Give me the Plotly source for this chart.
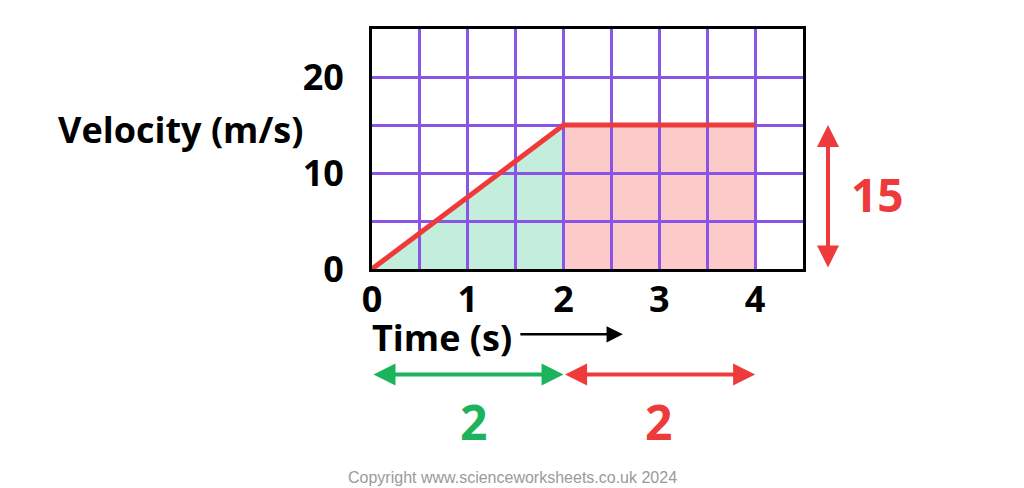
import plotly.graph_objects as go

# velocity-time data
time_s = [0, 2, 4]
velocity = [0, 15, 15]

x_ticks = [0, 0.5, 1, 1.5, 2, 2.5, 3, 3.5, 4, 4.5]
x_ticktext = ['0', '', '1', '', '2', '', '3', '', '4', '']
y_ticks = [0, 5, 10, 15, 20, 25]
y_ticktext = ['0', '', '10', '', '20', '']

X_MAX, Y_MAX = 4.5, 25
PLOT_W, PLOT_H = 431, 240

RED = '#ee3a3a'
GREEN = '#1bb35b'
PURPLE = '#8a55e6'
FONT = 'Open Sans'

fig = go.Figure()

# line of the graph
fig.add_trace(go.Scatter(
    x=time_s, y=velocity, mode='lines',
    line=dict(color=RED, width=5),
    cliponaxis=False, showlegend=False, hoverinfo='skip'))

# shaded areas, drawn below the grid
tri = 'M {},{} L {},{} L {},{} Z'.format(
    time_s[0], velocity[0], time_s[1], velocity[1], time_s[1], velocity[0])
fig.add_shape(type='path', path=tri, xref='x', yref='y',
              fillcolor='#c2eedb', line_width=0, layer='below')
fig.add_shape(type='rect', xref='x', yref='y',
              x0=time_s[1], x1=time_s[2], y0=0, y1=velocity[2],
              fillcolor='#fdcaca', line_width=0, layer='below')

tick_font = dict(family=FONT, size=36, color='black', weight='bold')
fig.update_xaxes(
    range=[0, X_MAX], tickvals=x_ticks, ticktext=x_ticktext,
    showgrid=True, gridcolor=PURPLE, gridwidth=3,
    showline=True, linecolor='black', linewidth=3, mirror=True,
    ticks='', ticklabelstandoff=-3,
    tickfont=tick_font, zeroline=False, fixedrange=True)
fig.update_yaxes(
    range=[0, Y_MAX], tickvals=y_ticks, ticktext=y_ticktext,
    showgrid=True, gridcolor=PURPLE, gridwidth=3,
    showline=True, linecolor='black', linewidth=3, mirror=True,
    ticks='outside', ticklen=18, tickcolor='rgba(0,0,0,0)',
    tickfont=tick_font, zeroline=False, fixedrange=True)


def px(t):
    return t / X_MAX


def arrow(x, y, ax, color, width, both=True, ay=0, size=1.1):
    return dict(text='', x=x, y=y, ax=ax, ay=ay, xref='paper', yref='paper',
                showarrow=True, arrowside='end+start' if both else 'end',
                arrowhead=2, startarrowhead=2, arrowsize=size,
                startarrowsize=size, arrowwidth=width, arrowcolor=color,
                standoff=0, startstandoff=0)


def label(text, x, y, size, color, xanchor='center', family=FONT,
          weight='bold'):
    return dict(text=text, x=x, y=y, xref='paper', yref='paper',
                xanchor=xanchor, yanchor='middle', showarrow=False,
                font=dict(family=family, size=size, color=color,
                          weight=weight))


rise_px = velocity[1] / Y_MAX * PLOT_H
run1_px = (time_s[1] - time_s[0]) / X_MAX * PLOT_W
run2_px = (time_s[2] - time_s[1]) / X_MAX * PLOT_W

annotations = [
    label('Velocity (m/s)', -0.445, 0.583, 36, 'black'),
    label('Time (s)', -0.004, -0.285, 36, 'black', xanchor='left'),
    # time direction arrow
    arrow(0.582, -0.272, -104, 'black', 2.5, both=False, size=1.3),
    # height arrow
    arrow(1.058, velocity[1] / Y_MAX, 0, RED, 4, ay=rise_px),
    label(str(velocity[1]), 1.174, 0.3125, 46, RED),
    # base arrows
    arrow(px(time_s[1]), -0.44, -run1_px, GREEN, 4),
    arrow(px(time_s[2]), -0.44, -run2_px, RED, 4),
    label(str(time_s[1] - time_s[0]), 0.2347, -0.635, 48, GREEN),
    label(str(time_s[2] - time_s[1]), 0.6636, -0.635, 48, RED),
    label('Copyright www.scienceworksheets.co.uk 2024', 0.327, -0.868, 16,
          '#9a9a9a', family='Liberation Sans', weight='normal'),
]

fig.update_layout(
    width=1024, height=488,
    margin=dict(l=364, r=1024 - 364 - PLOT_W, t=21, b=488 - 21 - PLOT_H),
    paper_bgcolor='white', plot_bgcolor='white',
    annotations=annotations,
    showlegend=False)

fig.write_html('out.html', config={'displayModeBar': False})
